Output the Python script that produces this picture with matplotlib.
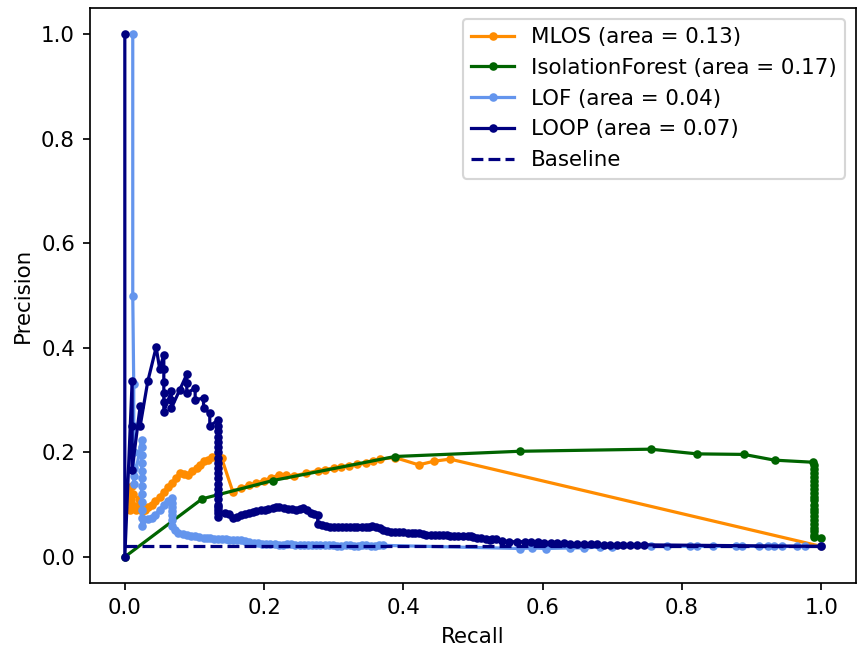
import matplotlib
matplotlib.use('Agg')
import matplotlib.pyplot as plt

# MLOS
mlos_recall = [0.006, 0.008, 0.008, 0.010, 0.010, 0.012, 0.014, 0.016, 0.020, 0.022, 0.025, 0.029,
               0.034, 0.039, 0.044, 0.050, 0.056, 0.062, 0.068, 0.073, 0.079, 0.085, 0.091, 0.097,
               0.103, 0.108, 0.113, 0.119, 0.125, 0.132, 0.139, 0.155, 0.167, 0.178, 0.189, 0.200,
               0.210, 0.222, 0.232, 0.243, 0.260, 0.277, 0.288, 0.300, 0.311, 0.322, 0.334, 0.346,
               0.357, 0.367, 0.388, 0.422, 0.444, 0.467, 1.0]
mlos_precision = [0.125, 0.09, 0.11, 0.135, 0.10, 0.12, 0.095, 0.09, 0.11, 0.095, 0.087, 0.09,
                  0.095, 0.10, 0.106, 0.115, 0.125, 0.133, 0.141, 0.150, 0.160, 0.158, 0.157, 0.164,
                  0.170, 0.176, 0.183, 0.186, 0.192, 0.190, 0.189, 0.125, 0.132, 0.137, 0.141, 0.146,
                  0.151, 0.157, 0.156, 0.155, 0.160, 0.165, 0.167, 0.170, 0.172, 0.174, 0.177, 0.179,
                  0.183, 0.187, 0.190, 0.176, 0.183, 0.187, 0.02]

# IsolationForest
if_recall = [0.0, 0.111, 0.2125, 0.388, 0.567, 0.755, 0.822, 0.889, 0.933, 0.9886,
             0.989, 0.989, 0.989, 0.989, 0.989, 0.989, 0.989, 0.989, 0.989, 0.989,
             0.989, 0.989, 0.989, 0.989, 0.989, 0.989, 0.989, 0.989, 0.989, 0.989, 1.0]
if_precision = [0.0, 0.111, 0.146, 0.192, 0.202, 0.206, 0.197, 0.196, 0.185, 0.181,
                0.175, 0.168, 0.160, 0.152, 0.145, 0.137, 0.130, 0.122, 0.115, 0.108,
                0.100, 0.092, 0.085, 0.078, 0.070, 0.063, 0.056, 0.049, 0.042, 0.038, 0.037]

# LOF
lof_recall = [0.0114, 0.0114, 0.0128, 0.0128, 0.0128, 0.0128, 0.0128, 0.0128, 0.024, 0.024, 0.024,
              0.024, 0.024, 0.024, 0.024, 0.024, 0.024, 0.024, 0.024, 0.024, 0.034, 0.039, 0.044,
              0.050, 0.056, 0.062, 0.068, 0.068, 0.068, 0.068, 0.068, 0.068, 0.068, 0.072, 0.077,
              0.083, 0.089, 0.095, 0.101, 0.107, 0.113, 0.118, 0.122, 0.128, 0.134, 0.140, 0.146,
              0.150, 0.155, 0.161, 0.167, 0.173, 0.179, 0.185, 0.191, 0.197, 0.203, 0.209, 0.215,
              0.221, 0.227, 0.233, 0.239, 0.245, 0.251, 0.257, 0.263, 0.269, 0.275, 0.281, 0.287,
              0.293, 0.299, 0.305, 0.311, 0.317, 0.323, 0.329, 0.335, 0.341, 0.347, 0.353, 0.359,
              0.365, 0.371, 0.567, 0.585, 0.605, 0.639, 0.660, 0.683, 0.700, 0.755, 0.778, 0.811,
              0.821, 0.845, 0.878, 0.887, 0.911, 0.923, 0.932, 0.944, 0.965, 0.977, 1.0]
lof_precision = [1.0, 0.5, 0.33, 0.25, 0.20, 0.17, 0.155, 0.14, 0.224, 0.21, 0.195, 0.18,
                 0.165, 0.15, 0.135, 0.12, 0.105, 0.09, 0.075, 0.06, 0.072, 0.075, 0.08,
                 0.09, 0.10, 0.107, 0.112, 0.104, 0.096, 0.088, 0.08, 0.07, 0.06, 0.052, 0.045,
                 0.043, 0.042, 0.040, 0.039, 0.038, 0.037, 0.036, 0.036, 0.035, 0.035, 0.034, 0.034,
                 0.033, 0.033, 0.033, 0.033, 0.031, 0.029, 0.027, 0.026, 0.025, 0.025, 0.024, 0.024,
                 0.023, 0.023, 0.024, 0.024, 0.023, 0.023, 0.022, 0.022, 0.023, 0.023, 0.022, 0.022,
                 0.022, 0.022, 0.021, 0.021, 0.022, 0.022, 0.021, 0.021, 0.022, 0.022, 0.021, 0.021,
                 0.022, 0.022, 0.016, 0.017, 0.016, 0.017, 0.017, 0.019, 0.019, 0.02, 0.02, 0.02,
                 0.02, 0.02, 0.02, 0.02, 0.02, 0.02, 0.02, 0.02, 0.02, 0.02, 0.02]

# LOOP
loop_recall = [0.0, 0.0, 0.0105, 0.0105, 0.0105, 0.022, 0.022, 0.033, 0.045, 0.050, 0.056, 0.056,
               0.056, 0.056, 0.056, 0.056, 0.067, 0.067, 0.067, 0.079, 0.089, 0.089, 0.089, 0.101,
               0.101, 0.113, 0.113, 0.122, 0.122, 0.134, 0.134, 0.134, 0.134, 0.134, 0.134, 0.134,
               0.134, 0.134, 0.134, 0.134, 0.134, 0.134, 0.134, 0.134, 0.134, 0.134, 0.134, 0.134,
               0.134, 0.134, 0.1436, 0.149, 0.155, 0.161, 0.167, 0.173, 0.179, 0.184, 0.189, 0.195,
               0.2006, 0.206, 0.2125, 0.217, 0.222, 0.228, 0.234, 0.240, 0.246, 0.251, 0.256, 0.262,
               0.267, 0.272, 0.277, 0.277, 0.283, 0.2886, 0.294, 0.300, 0.306, 0.312, 0.318, 0.324,
               0.329, 0.334, 0.340, 0.346, 0.350, 0.355, 0.361, 0.367, 0.371, 0.376, 0.382, 0.388,
               0.394, 0.400, 0.406, 0.412, 0.417, 0.422, 0.428, 0.433, 0.439, 0.445, 0.451, 0.457,
               0.462, 0.467, 0.473, 0.479, 0.486, 0.493, 0.497, 0.500, 0.506, 0.512, 0.518, 0.524,
               0.528, 0.533, 0.542, 0.552, 0.563, 0.574, 0.583, 0.593, 0.602, 0.612, 0.621, 0.631,
               0.640, 0.650, 0.659, 0.669, 0.678, 0.688, 0.697, 0.707, 0.716, 0.726, 0.735, 0.745, 1.0]
loop_precision = [1.0, 0.0, 0.336, 0.25, 0.167, 0.288, 0.25, 0.336, 0.401, 0.36, 0.386, 0.36,
                  0.335, 0.314, 0.296, 0.278, 0.317, 0.30, 0.285, 0.32, 0.349, 0.333, 0.313, 0.323,
                  0.30, 0.304, 0.285, 0.275, 0.25, 0.262, 0.25, 0.24, 0.23, 0.22, 0.21, 0.20,
                  0.19, 0.18, 0.17, 0.16, 0.15, 0.14, 0.13, 0.12, 0.11, 0.10, 0.095, 0.09,
                  0.084, 0.077, 0.084, 0.082, 0.074, 0.077, 0.080, 0.082, 0.084, 0.086, 0.087, 0.089,
                  0.090, 0.092, 0.093, 0.095, 0.096, 0.094, 0.091, 0.091, 0.090, 0.092, 0.093, 0.089,
                  0.084, 0.082, 0.080, 0.063, 0.061, 0.059, 0.058, 0.058, 0.058, 0.058, 0.057, 0.057,
                  0.057, 0.057, 0.057, 0.057, 0.058, 0.059, 0.057, 0.055, 0.052, 0.050, 0.048, 0.047,
                  0.047, 0.047, 0.046, 0.045, 0.045, 0.045, 0.043, 0.042, 0.042, 0.042, 0.042, 0.042,
                  0.041, 0.040, 0.040, 0.040, 0.040, 0.040, 0.039, 0.038, 0.037, 0.036, 0.034, 0.033,
                  0.034, 0.034, 0.031, 0.029, 0.029, 0.029, 0.029, 0.029, 0.027, 0.026, 0.026, 0.026,
                  0.025, 0.025, 0.025, 0.025, 0.024, 0.023, 0.023, 0.023, 0.023, 0.023, 0.023, 0.023, 0.02]

baseline_x = [0.0, 1.0]
baseline_y = [0.02, 0.02]

DPI = 154
fig = plt.figure(figsize=(857 / DPI, 653 / DPI), dpi=DPI)
ax = fig.add_axes([90 / 857, 70 / 653, 766 / 857, 575 / 653])

ax.plot(mlos_recall, mlos_precision, marker='.', color='darkorange', label='MLOS (area = 0.13)')
ax.plot(if_recall, if_precision, marker='.', color='darkgreen', label='IsolationForest (area = 0.17)')
ax.plot(lof_recall, lof_precision, marker='.', color='cornflowerblue', label='LOF (area = 0.04)')
ax.plot(loop_recall, loop_precision, marker='.', color='navy', label='LOOP (area = 0.07)')
ax.plot(baseline_x, baseline_y, linestyle='--', color='navy', label='Baseline')

ax.set_xlabel('Recall')
ax.set_ylabel('Precision')
ax.legend(loc='upper right')

fig.savefig('out.png', dpi=DPI)
